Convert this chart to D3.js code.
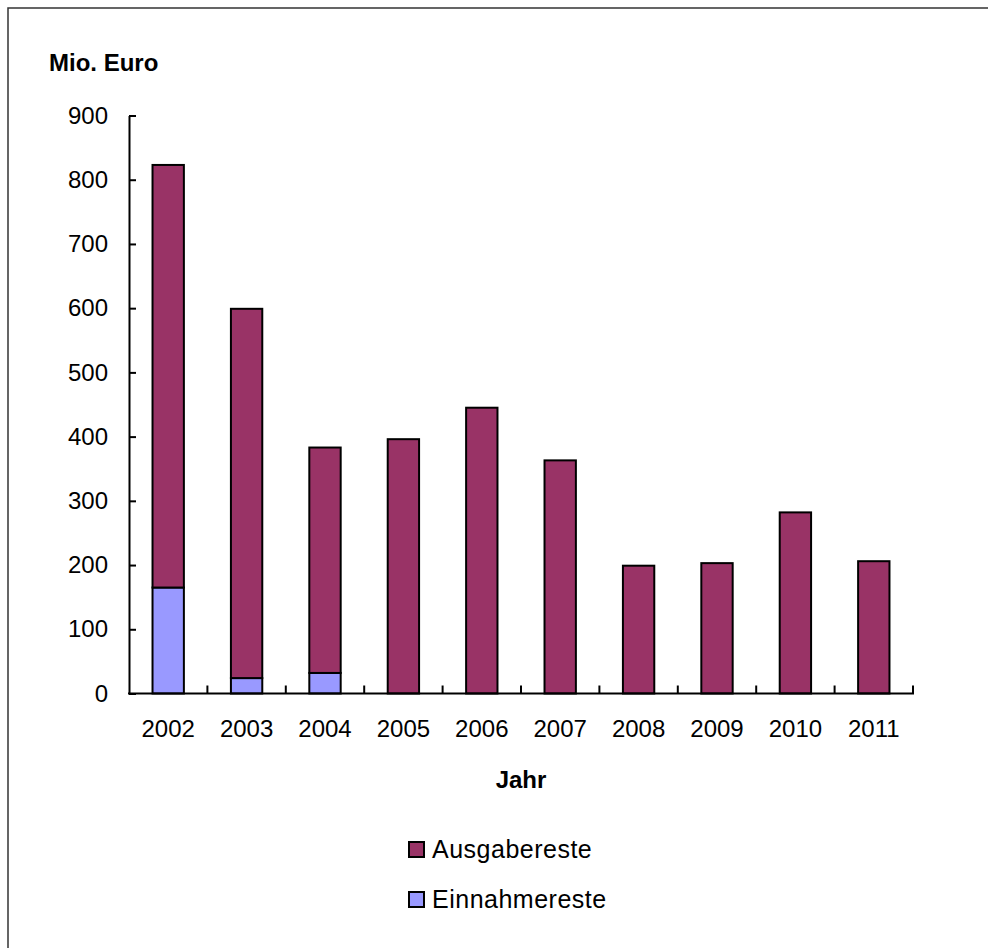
<!DOCTYPE html>
<html>
<head>
<meta charset="utf-8">
<script src="https://cdn.jsdelivr.net/npm/d3@7"></script>
<style>
  html, body { margin: 0; padding: 0; background: #fff; }
  svg { display: block; font-family: "Liberation Sans", Arial, sans-serif; }
</style>
</head>
<body>
<svg id="chart" width="988" height="948"></svg>
<script>
// Haushaltsreste in Mio. Euro je Jahr
const years = ["2002", "2003", "2004", "2005", "2006", "2007", "2008", "2009", "2010", "2011"];
const ausgabereste = [658, 575, 351, 396, 445, 363, 199, 203, 282, 206];
const einnahmereste = [165, 24, 32, 0, 0, 0, 0, 0, 0, 0];
const yTicks = [0, 100, 200, 300, 400, 500, 600, 700, 800, 900];
const seriesNames = ["Ausgabereste", "Einnahmereste"];
const seriesColors = { Ausgabereste: "#993366", Einnahmereste: "#9999FF" };

const svg = d3.select("#chart");

// Rahmen um das Diagramm
svg.append("rect")
  .attr("x", 8).attr("y", 8)
  .attr("width", 1000).attr("height", 960)
  .attr("fill", "#fff")
  .attr("stroke", "#333").attr("stroke-width", 1.5);

const plot = { left: 129, right: 913, top: 115.5, bottom: 693.5 };

const x = d3.scaleBand()
  .domain(years)
  .range([plot.left, plot.right])
  .paddingInner(0.6)
  .paddingOuter(0.3);

const y = d3.scaleLinear()
  .domain([0, 900])
  .range([plot.bottom, plot.top]);

// Gestapelte Werte: Einnahmereste unten, Ausgabereste oben
const table = years.map((yr, i) => ({
  year: yr,
  Einnahmereste: einnahmereste[i],
  Ausgabereste: ausgabereste[i]
}));
const stacked = d3.stack().keys(["Einnahmereste", "Ausgabereste"])(table);

svg.append("g").selectAll("g")
  .data(stacked)
  .join("g")
  .attr("fill", d => seriesColors[d.key])
  .selectAll("rect")
  .data(d => d.filter(s => s[1] - s[0] > 0))
  .join("rect")
  .attr("x", d => x(d.data.year))
  .attr("width", x.bandwidth())
  .attr("y", d => y(d[1]))
  .attr("height", d => y(d[0]) - y(d[1]))
  .attr("stroke", "#000")
  .attr("stroke-width", 2);

// Y-Achse mit nach innen zeigenden Teilstrichen
const yAxis = svg.append("g")
  .attr("transform", `translate(${plot.left},0)`)
  .call(d3.axisLeft(y).tickValues(yTicks).tickSizeInner(-7).tickSizeOuter(0).tickPadding(21));
yAxis.select(".domain").attr("stroke", "#000").attr("stroke-width", 2);
yAxis.selectAll(".tick line").attr("stroke", "#000").attr("stroke-width", 2);
yAxis.selectAll(".tick text")
  .attr("font-size", 24)
  .attr("font-family", "Liberation Sans, Arial, sans-serif")
  .attr("fill", "#000");

// X-Achse: Beschriftungen mittig, Teilstriche an den Kategoriegrenzen
const xAxis = svg.append("g")
  .attr("transform", `translate(0,${plot.bottom})`)
  .call(d3.axisBottom(x).tickSize(0).tickPadding(26));
xAxis.select(".domain").remove();
xAxis.selectAll(".tick text")
  .attr("font-size", 24)
  .attr("font-family", "Liberation Sans, Arial, sans-serif")
  .attr("fill", "#000");

svg.append("line")
  .attr("x1", plot.left - 1).attr("x2", plot.right + 1)
  .attr("y1", plot.bottom).attr("y2", plot.bottom)
  .attr("stroke", "#000").attr("stroke-width", 2);

const boundaries = d3.range(1, years.length + 1).map(i => plot.left + i * x.step());
svg.append("g").selectAll("line")
  .data(boundaries)
  .join("line")
  .attr("x1", d => d).attr("x2", d => d)
  .attr("y1", plot.bottom).attr("y2", plot.bottom - 8)
  .attr("stroke", "#000").attr("stroke-width", 2);

// Achsentitel
svg.append("text")
  .attr("x", 49).attr("y", 71)
  .attr("font-size", 24).attr("font-weight", "bold")
  .text("Mio. Euro");

svg.append("text")
  .attr("x", (plot.left + plot.right) / 2).attr("y", 788)
  .attr("text-anchor", "middle")
  .attr("font-size", 24).attr("font-weight", "bold")
  .text("Jahr");

// Legende
const legend = svg.append("g");
const legendRows = legend.selectAll("g")
  .data(seriesNames)
  .join("g")
  .attr("transform", (d, i) => `translate(409,${842 + i * 50})`);
legendRows.append("rect")
  .attr("width", 15).attr("height", 15)
  .attr("fill", d => seriesColors[d])
  .attr("stroke", "#000").attr("stroke-width", 2);
legendRows.append("text")
  .attr("x", 23).attr("y", 15.5)
  .attr("font-size", 25)
  .attr("letter-spacing", 0.5)
  .text(d => d);
</script>
</body>
</html>
